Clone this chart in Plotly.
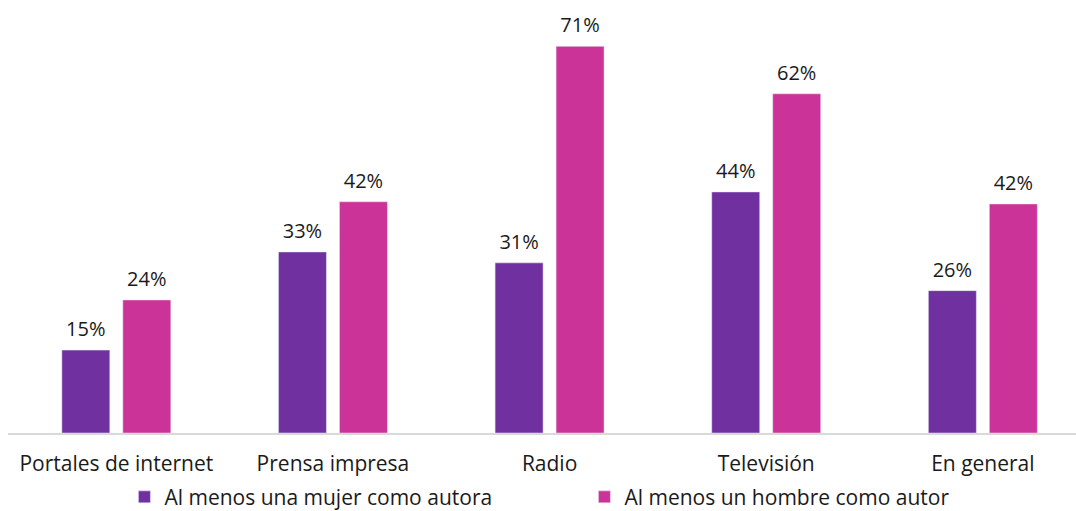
import plotly.graph_objects as go

categories = ['Portales de internet', 'Prensa impresa', 'Radio', 'Televisión', 'En general']
mujer = [15.2, 33.2, 31.2, 44.2, 26.1]
hombre = [24.4, 42.4, 70.9, 62.2, 42.0]
mujer_labels = ['15%', '33%', '31%', '44%', '26%']
hombre_labels = ['24%', '42%', '71%', '62%', '42%']

font_family = "Open Sans, Lato, sans-serif"


def lifted(labels):
    # label in 20px over a tiny empty line, so it sits a bit higher above the bar
    return ['<span style="font-size:20px">%s</span><br>\u00a0' % t for t in labels]


fig = go.Figure()
fig.add_trace(go.Bar(x=categories, y=mujer, name='Al menos una mujer como autora',
                     marker_color='#7030A0', text=lifted(mujer_labels),
                     textposition='outside', cliponaxis=False,
                     textfont=dict(size=7, color='#1a1a1a')))
fig.add_trace(go.Bar(x=categories, y=hombre, name='Al menos un hombre como autor',
                     marker_color='#CC3399', text=lifted(hombre_labels),
                     textposition='outside', cliponaxis=False,
                     textfont=dict(size=7, color='#1a1a1a')))

fig.update_layout(
    width=1076, height=511,
    margin=dict(l=8, r=0, t=24, b=78, autoexpand=False),
    plot_bgcolor='white', paper_bgcolor='white',
    font=dict(family=font_family, size=20, color='#1a1a1a'),
    barmode='group', bargap=0.437, bargroupgap=0.213,
    hovermode=False,
    legend=dict(orientation='h', x=0.109, xanchor='left', y=-0.157, yanchor='middle',
                entrywidth=415, font=dict(size=21), itemwidth=30, traceorder='normal'),
)
fig.update_xaxes(range=[-0.5, 4.43], showline=True, linecolor='#D9D9D9', linewidth=2,
                 ticks='', ticklabelstandoff=11, tickfont=dict(size=21))
fig.update_yaxes(range=[0, 75], visible=False, showgrid=False, zeroline=False)

fig.write_html("out.html", config={'displayModeBar': False},
               post_script="document.body.style.margin='0';")
